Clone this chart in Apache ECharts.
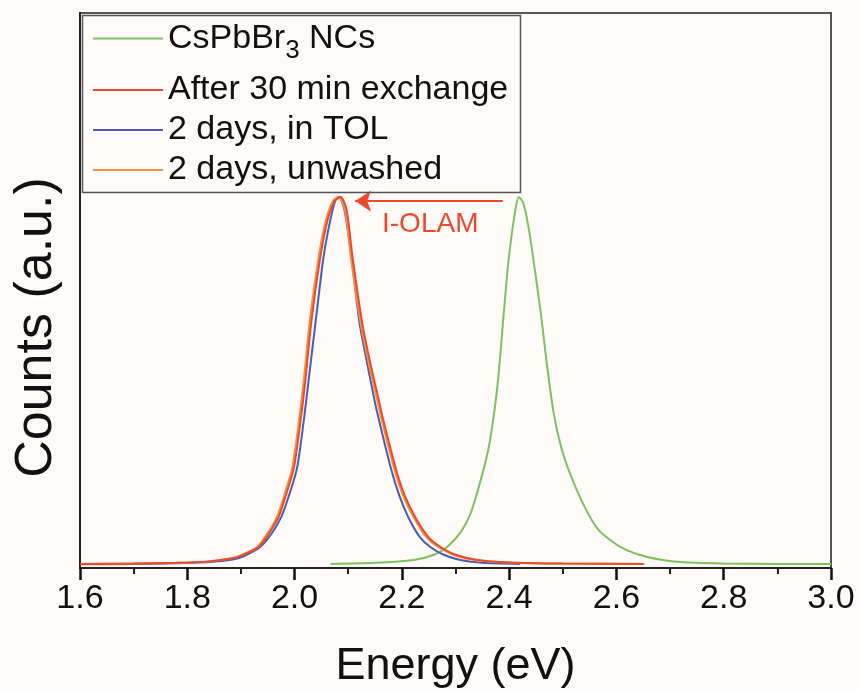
<!DOCTYPE html>
<html>
<head>
<meta charset="utf-8">
<script src="https://cdn.jsdelivr.net/npm/echarts@6/dist/echarts.min.js"></script>
<style>
html,body{margin:0;padding:0;background:#fdfaf7;}
#c{width:859px;height:691px;}
</style>
</head>
<body>
<div id="c"></div>
<script>
// ---- data ----
const seriesNames = ['CsPbBr3 NCs', 'After 30 min exchange', '2 days, in TOL', '2 days, unwashed'];
const xTicks = [1.6, 1.8, 2.0, 2.2, 2.4, 2.6, 2.8, 3.0];

const greenE = [2.067,2.150,2.222,2.260,2.285,2.310,2.328,2.345,2.362,2.378,2.390,2.399,2.410,2.418,2.426,2.432,2.440,2.459,2.470,2.483,2.497,2.511,2.540,2.567,2.608,2.658,2.720,2.800,2.900,3.000];
const greenV = [0.003,0.006,0.014,0.028,0.050,0.090,0.140,0.220,0.320,0.484,0.685,0.829,0.950,1.000,0.985,0.950,0.883,0.685,0.550,0.413,0.320,0.258,0.160,0.095,0.049,0.022,0.008,0.004,0.003,0.003];

const redE = [1.600,1.700,1.780,1.840,1.880,1.900,1.933,1.952,1.970,1.985,1.999,2.012,2.020,2.031,2.048,2.062,2.075,2.086,2.097,2.108,2.126,2.141,2.157,2.164,2.188,2.205,2.225,2.250,2.272,2.300,2.341,2.400,2.500,2.650];
const redV = [0.003,0.004,0.006,0.010,0.017,0.025,0.049,0.085,0.130,0.195,0.266,0.402,0.500,0.658,0.837,0.940,0.990,1.000,0.965,0.837,0.658,0.550,0.448,0.402,0.266,0.190,0.130,0.075,0.049,0.028,0.014,0.007,0.004,0.003];

const blueE = [1.600,1.700,1.780,1.840,1.885,1.905,1.936,1.957,1.975,1.991,2.005,2.018,2.026,2.039,2.054,2.067,2.076,2.083,2.093,2.106,2.121,2.135,2.149,2.156,2.179,2.195,2.212,2.234,2.253,2.278,2.309,2.350,2.420];
const blueV = [0.002,0.003,0.005,0.008,0.015,0.024,0.049,0.085,0.130,0.195,0.266,0.402,0.500,0.658,0.837,0.940,0.990,1.000,0.965,0.837,0.658,0.550,0.448,0.402,0.266,0.190,0.130,0.075,0.049,0.028,0.014,0.006,0.003];

const orangeE = [1.600,1.700,1.780,1.840,1.877,1.897,1.930,1.949,1.967,1.982,1.996,2.009,2.017,2.028,2.045,2.059,2.072,2.082,2.094,2.105,2.123,2.138,2.154,2.161,2.185,2.202,2.222,2.246,2.268,2.296,2.336,2.400,2.500,2.652];
const orangeV = [0.003,0.004,0.006,0.010,0.017,0.025,0.049,0.085,0.130,0.195,0.266,0.402,0.500,0.658,0.837,0.940,0.990,1.000,0.965,0.837,0.658,0.550,0.448,0.402,0.266,0.190,0.130,0.075,0.049,0.028,0.014,0.007,0.004,0.003];

// annotation arrow (data coordinates)
const arrowFrom = [2.388, 0.989];
const arrowTo = [2.113, 0.989];
const arrowLabel = 'I-OLAM';

// ---- styles ----
const FONT = "'Liberation Sans', Arial, Helvetica, sans-serif";
const colors = { green: '#7cc35c', red: '#ec4a2c', blue: '#4a5db0', orange: '#f4913f' };

function pairs(xs, ys) { return xs.map((x, i) => [x, ys[i]]); }

function mkSeries(name, color, xs, ys, z, extra) {
  return Object.assign({
    name: name, type: 'line', data: pairs(xs, ys), showSymbol: false, symbol: 'none',
    smooth: 0.25, z: z,
    lineStyle: { color: color, width: 2 }, itemStyle: { color: color }
  }, extra || {});
}

const legendTops = [13, 73, 113, 153];
const legends = seriesNames.map((n, i) => ({
  data: [n], left: 93, top: legendTops[i], padding: 0, itemGap: 0, selectedMode: false,
  icon: 'rect', itemWidth: 70, itemHeight: 2,
  formatter: function (name) { return name === 'CsPbBr3 NCs' ? 'CsPbBr{sub|3} NCs' : name; },
  textStyle: {
    fontFamily: FONT, fontSize: 34, color: '#111', lineHeight: 34,
    rich: { sub: { fontFamily: FONT, fontSize: 26, color: '#111', lineHeight: 34, padding: [25, 0, 0, 0] } }
  }
}));

const chart = echarts.init(document.getElementById('c'), null, { renderer: 'canvas' });
chart.setOption({
  backgroundColor: '#fdfaf7',
  animation: false,
  grid: { left: 80, right: 28, top: 13, bottom: 123, outerBoundsMode: 'none', containLabel: false,
    show: true, borderColor: '#555', borderWidth: 2, backgroundColor: 'transparent' },
  legend: legends,
  xAxis: {
    type: 'value', min: xTicks[0], max: xTicks[xTicks.length - 1], interval: 0.2,
    name: 'Energy (eV)', nameLocation: 'middle', nameGap: 76,
    nameTextStyle: { fontFamily: FONT, fontSize: 45, color: '#111' },
    axisLine: { show: true, onZero: false, lineStyle: { color: '#222', width: 2 } },
    axisTick: { show: true, inside: false, length: 12, lineStyle: { color: '#111', width: 2.5 } },
    minorTick: { show: true, splitNumber: 2, length: 6, lineStyle: { color: '#222', width: 2 } },
    splitLine: { show: false },
    axisLabel: { fontFamily: FONT, fontSize: 34, color: '#111', margin: 14,
      formatter: v => v.toFixed(1) }
  },
  yAxis: {
    type: 'value', min: -0.008, max: 1.5,
    name: 'Counts (a.u.)', nameLocation: 'middle', nameGap: 17,
    nameTextStyle: { fontFamily: FONT, fontSize: 52, color: '#111', padding: [0, 74, 0, 0] },
    axisLine: { show: true, onZero: false, lineStyle: { color: '#222', width: 2 } },
    axisTick: { show: false }, axisLabel: { show: false }, splitLine: { show: false }
  },
  graphic: [
    { type: 'rect', left: 80, top: 13, shape: { x: 0, y: 0, width: 438, height: 177 }, z: 50,
      style: { fill: 'none', stroke: '#555', lineWidth: 1.5 } },
    { type: 'text', left: 382, top: 210, z: 50,
      style: { text: arrowLabel, fontFamily: FONT, fontSize: 28, fill: colors.red } }
  ],
  series: [
    mkSeries(seriesNames[0], colors.green, greenE, greenV, 2),
    mkSeries(seriesNames[2], colors.blue, blueE, blueV, 3),
    mkSeries(seriesNames[3], colors.orange, orangeE, orangeV, 4),
    mkSeries(seriesNames[1], colors.red, redE, redV, 5, {
      markLine: {
        silent: true, symbol: ['none', 'arrow'], symbolSize: 16,
        label: { show: false },
        lineStyle: { color: colors.red, width: 2, type: 'solid' },
        data: [[{ coord: arrowFrom }, { coord: arrowTo }]]
      }
    })
  ]
});
</script>
</body>
</html>
